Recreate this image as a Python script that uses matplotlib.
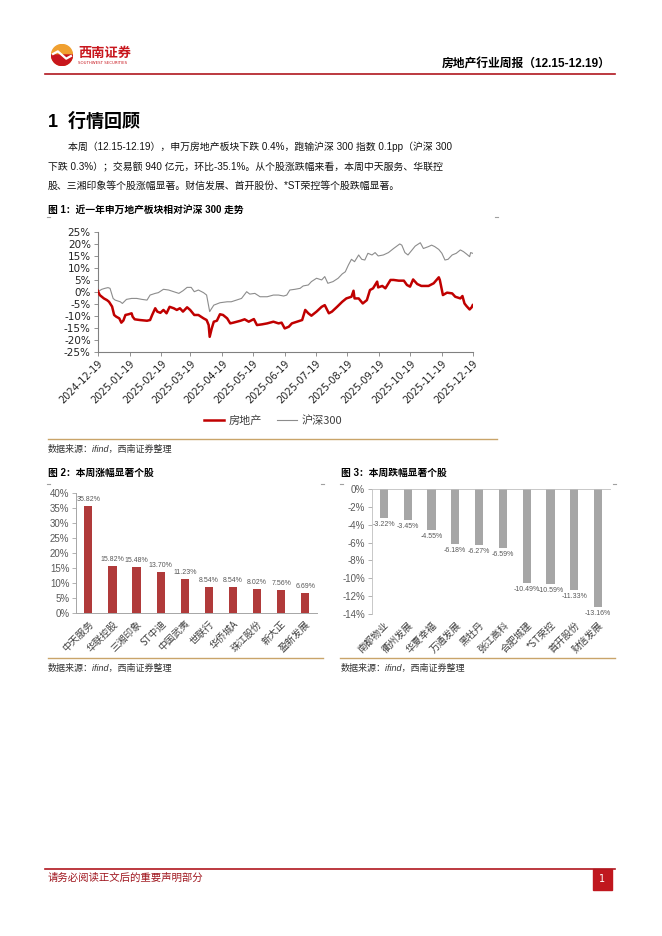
"""
Weekly real-estate report page 1: market review with three charts
"""

import datetime as dt

import matplotlib
matplotlib.use("Agg")
import matplotlib.pyplot as plt
from matplotlib.lines import Line2D
from matplotlib.patches import Circle, Rectangle, Wedge

W, H = 662, 936

CJK = ["Liberation Sans", "Noto Sans CJK SC"]
CJK_ONLY = ["Noto Sans CJK SC", "DejaVu Sans"]

RED = "#C00000"
GOLD = "#C9A46A"

##################################################################
# Data
##################################################################

start_date = "2024-12-19"

date_ticks = [
    "2024-12-19", "2025-01-19", "2025-02-19", "2025-03-19", "2025-04-19",
    "2025-05-19", "2025-06-19", "2025-07-19", "2025-08-19", "2025-09-19",
    "2025-10-19", "2025-11-19", "2025-12-19",
]

# days after start_date, cumulative change in %
re_days = [0, 2, 6, 9, 11, 14, 16, 18, 21, 23,
           25, 27, 30, 33, 34, 36, 41, 48, 51, 53,
           56, 58, 61, 64, 67, 70, 74, 77, 80, 83,
           87, 90, 94, 98, 103, 106, 108, 109, 111, 113,
           116, 119, 122, 126, 129, 132, 139, 143, 147, 152,
           155, 160, 165, 171, 176, 179, 182, 186, 189, 194,
           199, 202, 205, 208, 213, 218, 221, 225, 228, 233,
           238, 242, 247, 249, 250, 254, 258, 262, 265, 268,
           272, 273, 277, 280, 285, 288, 293, 298, 301, 304,
           307, 311, 315, 322, 327, 332, 333, 336, 340, 345,
           348, 353, 355, 357, 359, 362, 364, 365]

re_vals = [0.4, -1.4, -2.8, -3.5, -4.2, -6.2, -9.7, -10.4, -11.1, -12.9,
           -12.0, -9.7, -9.4, -9.0, -10.4, -11.5, -11.8, -12.1, -11.8, -9.7,
           -6.9, -8.3, -8.8, -7.6, -9.0, -6.3, -6.9, -7.6, -6.9, -8.3,
           -6.5, -7.6, -9.7, -9.7, -11.1, -11.8, -13.9, -18.8, -15.3, -12.5,
           -12.1, -9.4, -9.7, -11.1, -13.2, -12.9, -12.1, -11.5, -12.5, -11.4,
           -13.9, -13.6, -13.2, -12.5, -13.2, -12.9, -15.3, -14.6, -13.2, -12.5,
           -11.8, -7.6, -9.0, -10.0, -8.3, -6.3, -5.6, -9.0, -8.3, -6.3,
           -4.2, -2.8, -2.1, 0.4, -2.8, -2.8, -4.9, -3.5, 0.7, 1.4,
           4.2, 1.8, 2.4, 1.4, 4.9, 4.9, 4.6, 4.6, 2.8, 2.1,
           5.1, 3.2, 2.4, 2.4, 3.5, 6.0, 4.9, -1.4, -0.4, -0.7,
           -2.1, -2.8, -1.8, -4.9, -6.0, -7.4, -6.5, -5.6]

hs_days = [0, 4, 7, 10, 12, 15, 17, 22, 24, 28,
           33, 38, 43, 48, 51, 56, 59, 64, 69, 74,
           79, 83, 87, 91, 94, 98, 103, 106, 109, 110,
           113, 119, 126, 130, 135, 140, 145, 148, 153, 158,
           165, 171, 176, 181, 184, 187, 192, 197, 200, 205,
           208, 213, 218, 221, 224, 229, 234, 238, 241, 244,
           247, 250, 254, 257, 260, 263, 267, 270, 273, 278,
           283, 288, 294, 296, 299, 302, 306, 309, 314, 317,
           322, 325, 328, 332, 335, 338, 341, 345, 349, 353,
           356, 359, 362, 363, 365]

hs_vals = [0.0, 1.0, 1.4, 1.7, 1.4, -2.8, -3.5, -4.2, -4.9, -3.2,
           -2.8, -2.8, -3.2, -3.5, -1.4, -0.7, -0.4, 1.0, 0.7, 0.0,
           -0.7, 0.4, 1.8, 1.8, 0.0, 0.7, -0.4, -1.4, -8.3, -7.6,
           -5.6, -4.6, -4.2, -4.2, -3.5, -2.8, 0.0, -1.0, -0.7, -2.1,
           -2.1, -1.4, -1.4, -1.8, -1.4, 0.7, 1.0, 1.4, 2.4, 2.8,
           4.2, 5.6, 4.9, 6.3, 3.5, 4.2, 5.6, 7.4, 8.3, 11.1,
           13.5, 12.5, 15.3, 13.5, 13.2, 16.0, 15.3, 16.3, 14.9, 15.3,
           16.3, 18.0, 19.9, 19.4, 16.3, 15.3, 17.4, 19.0, 20.4, 18.0,
           18.8, 19.4, 18.8, 17.6, 16.0, 13.2, 13.5, 15.3, 16.0, 17.4,
           16.7, 15.7, 14.6, 16.3, 16.0]

up_names = ["中天服务", "华联控股", "三湘印象", "ST中迪", "中国武夷",
            "世联行", "华侨城A", "珠江股份", "新大正", "盈新发展"]
up_vals = [35.82, 15.82, 15.48, 13.70, 11.23, 8.54, 8.54, 8.02, 7.56, 6.69]

down_names = ["南都物业", "衢州发展", "华夏幸福", "万通发展", "黑牡丹",
              "张江高科", "合肥城建", "*ST荣控", "首开股份", "财信发展"]
down_vals = [-3.22, -3.45, -4.55, -6.18, -6.27, -6.59, -10.49, -10.59, -11.33, -13.16]

paragraph = [
    "本周（12.15-12.19），申万房地产板块下跌 0.4%，跑输沪深 300 指数 0.1pp（沪深 300",
    "下跌 0.3%）；交易额 940 亿元，环比-35.1%。从个股涨跌幅来看，本周中天服务、华联控",
    "股、三湘印象等个股涨幅显著。财信发展、首开股份、*ST荣控等个股跌幅显著。",
]


##################################################################

def fx(x):
    return x / W


def fy(y):
    return 1 - y / H


def hline(fig, x0, x1, y, color, lw):
    fig.add_artist(Line2D([fx(x0), fx(x1)], [fy(y), fy(y)],
                          transform=fig.transFigure, color=color, linewidth=lw))


def pct(values):
    return [f"{v}%" for v in values]


fig = plt.figure(figsize=(W / 100, H / 100), dpi=100)

#
# -------------------------------------------------------------
# Header
# -------------------------------------------------------------
#

ax_logo = fig.add_axes([fx(51), fy(66), 22 / W, 22 / H])
ax_logo.set_xlim(-1.05, 1.05)
ax_logo.set_ylim(-1.05, 1.05)
ax_logo.set_aspect("equal")
ax_logo.axis("off")
ax_logo.add_patch(Circle((0, 0), 1, color="#F0A030"))
ax_logo.add_patch(Wedge((0, 0), 1, 180, 360, color="#C8161D"))
ax_logo.plot([-0.85, -0.4, 0.0, 0.4, 0.85], [0.1, 0.35, 0.0, -0.35, -0.1],
             color="white", linewidth=1.6)

fig.text(fx(78), fy(53), "西南证券", fontsize=9.5, fontweight="bold",
         color="#C8161D", family=CJK_ONLY, va="center")
fig.text(fx(78), fy(63.5), "SOUTHWEST SECURITIES", fontsize=2.8,
         color="#C8161D", va="center")

fig.text(fx(611), fy(65), "房地产行业周报（12.15-12.19）", fontsize=8.5,
         fontweight="bold", family=CJK, ha="right", va="center")

hline(fig, 45, 615, 73.5, "#B0171F", 1.2)

#
# -------------------------------------------------------------
# Section text
# -------------------------------------------------------------
#

fig.text(fx(48), fy(122), "1  行情回顾", fontsize=13, fontweight="bold",
         family=CJK, va="center")

for i, (x0, y0) in enumerate([(68, 147), (48, 167), (48, 186)]):
    fig.text(fx(x0), fy(y0), paragraph[i], fontsize=7.1, family=CJK,
             va="center", color="#111111")

#
# -------------------------------------------------------------
# Figure 1
# -------------------------------------------------------------
#

fig.text(fx(48), fy(210), "图 1：近一年申万地产板块相对沪深 300 走势",
         fontsize=7, fontweight="bold", family=CJK, va="center")

for x0, x1, y0 in [(47, 50, 217), (495, 498, 217), (47, 50, 484),
                   (321, 324, 484), (340, 343, 484), (613, 616, 484)]:
    hline(fig, x0, x1, y0, "#A0A0A0", 0.8)

d0 = dt.date.fromisoformat(start_date)
re_dates = [d0 + dt.timedelta(days=d) for d in re_days]
hs_dates = [d0 + dt.timedelta(days=d) for d in hs_days]
tick_dates = [dt.date.fromisoformat(t) for t in date_ticks]

ax1 = fig.add_axes([fx(97.7), fy(351.7), 375 / W, 120 / H])

ax1.plot(re_dates, re_vals, color=RED, linewidth=1.8, label="房地产", zorder=3)
ax1.plot(hs_dates, hs_vals, color="#8C8C8C", linewidth=0.8, label="沪深300", zorder=2)

ax1.set_xlim(tick_dates[0], tick_dates[-1])
ax1.set_ylim(-25, 25)

yt = list(range(-25, 30, 5))
ax1.set_yticks(yt)
ax1.set_yticklabels(pct(yt), fontsize=7.5, color="#222222")
ax1.set_xticks(tick_dates)
ax1.set_xticklabels(date_ticks, fontsize=7, color="#222222", rotation=45,
                    ha="right", rotation_mode="anchor")

for side in ["top", "right"]:
    ax1.spines[side].set_visible(False)
for side in ["left", "bottom"]:
    ax1.spines[side].set_color("#808080")
    ax1.spines[side].set_linewidth(0.8)

ax1.tick_params(axis="both", direction="out", length=3, width=0.6, colors="#808080",
                labelcolor="#222222", pad=2)

ax1.legend(loc="center", bbox_to_anchor=(fx(273), fy(421)),
           bbox_transform=fig.transFigure, ncol=2, frameon=False,
           prop={"family": CJK_ONLY, "size": 8}, handlelength=1.8,
           columnspacing=1.4, handletextpad=0.4, labelcolor="#404040")

hline(fig, 48, 497, 438.5, GOLD, 1.0)
fig.text(fx(48), fy(449), "数据来源：ifind，西南证券整理", fontsize=6.5,
         family=CJK, style="italic", va="center", color="#333333")

#
# -------------------------------------------------------------
# Figure 2
# -------------------------------------------------------------
#

fig.text(fx(48), fy(473), "图 2：本周涨幅显著个股", fontsize=7,
         fontweight="bold", family=CJK, va="center")

ax2 = fig.add_axes([fx(76.3), fy(613), 241 / W, 120 / H])

ax2.bar(range(len(up_vals)), up_vals, width=0.34, color="#B03A3A")

for i, v in enumerate(up_vals):
    ax2.text(i, v + 1.0, f"{v:.2f}%", ha="center", va="bottom", fontsize=5,
             color="#595959", family="Liberation Sans")

ax2.set_xlim(-0.5, len(up_vals) - 0.5)
ax2.set_ylim(0, 40)

yt2 = list(range(0, 45, 5))
ax2.set_yticks(yt2)
ax2.set_yticklabels(pct(yt2), fontsize=7, color="#595959", family="Liberation Sans")
ax2.set_xticks(range(len(up_names)))
ax2.set_xticklabels(up_names, fontsize=7, color="#404040", family=CJK_ONLY,
                    rotation=45, ha="right", rotation_mode="anchor")

for side in ["top", "right"]:
    ax2.spines[side].set_visible(False)
for side in ["left", "bottom"]:
    ax2.spines[side].set_color("#A6A6A6")
    ax2.spines[side].set_linewidth(0.7)

ax2.tick_params(axis="y", direction="out", length=3, width=0.6, colors="#A6A6A6",
                labelcolor="#595959", pad=2)
ax2.tick_params(axis="x", length=0, pad=4)

hline(fig, 48, 323, 657.5, GOLD, 1.0)
fig.text(fx(48), fy(668), "数据来源：ifind，西南证券整理", fontsize=6.5,
         family=CJK, style="italic", va="center", color="#333333")

#
# -------------------------------------------------------------
# Figure 3
# -------------------------------------------------------------
#

fig.text(fx(341), fy(473), "图 3：本周跌幅显著个股", fontsize=7,
         fontweight="bold", family=CJK, va="center")

ax3 = fig.add_axes([fx(372), fy(614), 238 / W, 125 / H])

ax3.bar(range(len(down_vals)), down_vals, width=0.34, color="#A6A6A6")

for i, v in enumerate(down_vals):
    ax3.text(i, v - 0.35, f"{v:.2f}%", ha="center", va="top", fontsize=5,
             color="#595959", family="Liberation Sans")

ax3.set_xlim(-0.5, len(down_vals) - 0.5)
ax3.set_ylim(-14, 0)

yt3 = list(range(-14, 1, 2))
ax3.set_yticks(yt3)
ax3.set_yticklabels(pct(yt3), fontsize=7, color="#595959", family="Liberation Sans")
ax3.set_xticks(range(len(down_names)))
ax3.set_xticklabels(down_names, fontsize=7, color="#404040", family=CJK_ONLY,
                    rotation=45, ha="right", rotation_mode="anchor")

for side in ["bottom", "right"]:
    ax3.spines[side].set_visible(False)
for side in ["left", "top"]:
    ax3.spines[side].set_color("#BFBFBF")
    ax3.spines[side].set_linewidth(0.6)

ax3.tick_params(axis="y", direction="out", length=3, width=0.6, colors="#A6A6A6",
                labelcolor="#595959", pad=2)
ax3.tick_params(axis="x", length=0, pad=4)

hline(fig, 340, 615, 657.5, GOLD, 1.0)
fig.text(fx(341), fy(668), "数据来源：ifind，西南证券整理", fontsize=6.5,
         family=CJK, style="italic", va="center", color="#333333")

#
# -------------------------------------------------------------
# Footer
# -------------------------------------------------------------
#

hline(fig, 45, 615, 868.5, "#B0171F", 1.2)

fig.text(fx(48), fy(878), "请务必阅读正文后的重要声明部分", fontsize=7.5,
         family=CJK_ONLY, va="center", color="#A01820")

fig.add_artist(Rectangle((fx(593), fy(890)), 19 / W, 21 / H,
                         transform=fig.transFigure, color="#C0171E"))
fig.text(fx(602.5), fy(879.5), "1", fontsize=7, color="white",
         ha="center", va="center")

fig.savefig("out.png", dpi=100)
plt.close(fig)
